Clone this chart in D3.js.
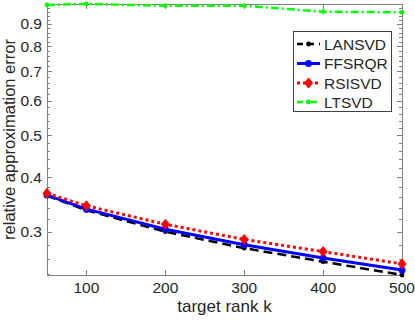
<!DOCTYPE html>
<html>
<head>
<meta charset="utf-8">
<script src="https://cdn.jsdelivr.net/npm/d3@7"></script>
<style>
body { margin: 0; background: #fff; }
text { font-family: "Liberation Sans", Arial, sans-serif; fill: #262626; }
</style>
</head>
<body>
<div id="chart"></div>
<script>
// data
var ranks = [50, 100, 200, 300, 400, 500];
var lansvd = [0.363, 0.336, 0.300, 0.275, 0.256, 0.2386];
var ffsrqr = [0.364, 0.338, 0.304, 0.280, 0.261, 0.245];
var rsisvd = [0.3675, 0.344, 0.312, 0.288, 0.270, 0.253];
var ltsvd = [0.995, 1.0, 0.991, 0.991, 0.960, 0.957];
var seriesNames = ["LANSVD", "FFSRQR", "RSISVD", "LTSVD"];
var xTicks = [100, 200, 300, 400, 500];
var yTicks = [0.3, 0.4, 0.5, 0.6, 0.7, 0.8, 0.9];

var width = 415, height = 322;
var plotL = 47, plotR = 402, plotT = 4, plotB = 275;
var fs = 15.5;

var svg = d3.select("#chart").append("svg")
	.attr("width", width)
	.attr("height", height);

var allVals = lansvd.concat(ffsrqr, rsisvd, ltsvd);

var x = d3.scaleLinear().domain([50, 500]).range([plotL, plotR]);
var y = d3.scaleLog().domain(d3.extent(allVals)).range([plotB, plotT]);

// minor ticks every 0.02
var minor = d3.range(12, 51).map(function(i){ return i / 50; })
	.filter(function(v){ return v >= y.domain()[0] && v <= y.domain()[1] + 1e-9; });

var axisCol = "#808080";
var g = svg.append("g");

// frame
g.append("rect")
	.attr("x", plotL + 0.5).attr("y", plotT + 0.5)
	.attr("width", plotR - plotL).attr("height", plotB - plotT)
	.attr("fill", "none").attr("stroke", axisCol);

// x ticks (bottom and top, inward)
xTicks.forEach(function(t){
	var px = Math.round(x(t)) + 0.5;
	g.append("line").attr("x1", px).attr("x2", px).attr("y1", plotB).attr("y2", plotB - 5).attr("stroke", axisCol);
	g.append("line").attr("x1", px).attr("x2", px).attr("y1", plotT).attr("y2", plotT + 5).attr("stroke", axisCol);
	g.append("text").attr("x", x(t)).attr("y", 293)
		.attr("text-anchor", "middle").attr("font-size", fs).text(t);
});

// y minor ticks
minor.forEach(function(t){
	var py = Math.round(y(t)) + 0.5;
	g.append("line").attr("x1", plotL).attr("x2", plotL + 3).attr("y1", py).attr("y2", py).attr("stroke", axisCol);
	g.append("line").attr("x1", plotR).attr("x2", plotR - 3).attr("y1", py).attr("y2", py).attr("stroke", axisCol);
});

// y major ticks
yTicks.forEach(function(t){
	var py = Math.round(y(t)) + 0.5;
	g.append("line").attr("x1", plotL).attr("x2", plotL + 5).attr("y1", py).attr("y2", py).attr("stroke", axisCol);
	g.append("line").attr("x1", plotR).attr("x2", plotR - 5).attr("y1", py).attr("y2", py).attr("stroke", axisCol);
	g.append("text").attr("x", plotL - 5).attr("y", y(t) + 5.5)
		.attr("text-anchor", "end").attr("font-size", fs).text(t);
});

// axis labels
svg.append("text").attr("x", (plotL + plotR) / 2).attr("y", 312)
	.attr("text-anchor", "middle").attr("font-size", 17).text("target rank k");
svg.append("text")
	.attr("transform", "translate(15," + ((plotT + plotB) / 2) + ") rotate(-90)")
	.attr("text-anchor", "middle").attr("font-size", 16.5).text("relative approximation error");

var styles = [
	{ vals: lansvd, color: "#000000", dash: "9,5", w: 2.5, marker: "dot" },
	{ vals: ffsrqr, color: "#0000ff", dash: null, w: 3, marker: "circle" },
	{ vals: rsisvd, color: "#ff0000", dash: "3,3", w: 3, marker: "diamond" },
	{ vals: ltsvd, color: "#00ff00", dash: "8,3,2,3", w: 2.5, marker: "dot" }
];

var line = d3.line()
	.x(function(d){ return x(d[0]); })
	.y(function(d){ return y(d[1]); });

function drawMarker(sel, type, color, cx, cy) {
	if (type == "diamond") {
		sel.append("path")
			.attr("d", "M" + cx + "," + (cy - 5) + "L" + (cx + 4) + "," + cy + "L" + cx + "," + (cy + 5) + "L" + (cx - 4) + "," + cy + "Z")
			.attr("fill", color).attr("stroke", color).attr("stroke-width", 1);
	} else if (type == "circle") {
		sel.append("circle").attr("cx", cx).attr("cy", cy).attr("r", 3.5).attr("fill", color);
	} else {
		sel.append("circle").attr("cx", cx).attr("cy", cy).attr("r", 2.4).attr("fill", color);
	}
}

var plot = svg.append("g");
styles.forEach(function(s){
	var pts = ranks.map(function(r, i){ return [r, s.vals[i]]; });
	plot.append("path")
		.attr("d", line(pts))
		.attr("fill", "none")
		.attr("stroke", s.color)
		.attr("stroke-width", s.w)
		.attr("stroke-dasharray", s.dash);
	pts.forEach(function(p){
		drawMarker(plot, s.marker, s.color, x(p[0]), y(p[1]));
	});
});

// legend
var lg = svg.append("g");
lg.append("rect").attr("x", 293.5).attr("y", 31.5).attr("width", 98).attr("height", 80)
	.attr("fill", "#fff").attr("stroke", "#404040");
var legY = [44, 63.5, 83, 102];
var legDash = ["6,5", null, "3,3", "6,3,2,3"];
styles.forEach(function(s, i){
	var ly = legY[i];
	lg.append("line").attr("x1", 297).attr("x2", 320).attr("y1", ly).attr("y2", ly)
		.attr("stroke", s.color).attr("stroke-width", s.w)
		.attr("stroke-dasharray", legDash[i]);
	drawMarker(lg, s.marker, s.color, 308.5, ly);
	lg.append("text").attr("x", 324).attr("y", ly + 5.5).attr("font-size", fs).text(seriesNames[i]);
});
</script>
</body>
</html>
